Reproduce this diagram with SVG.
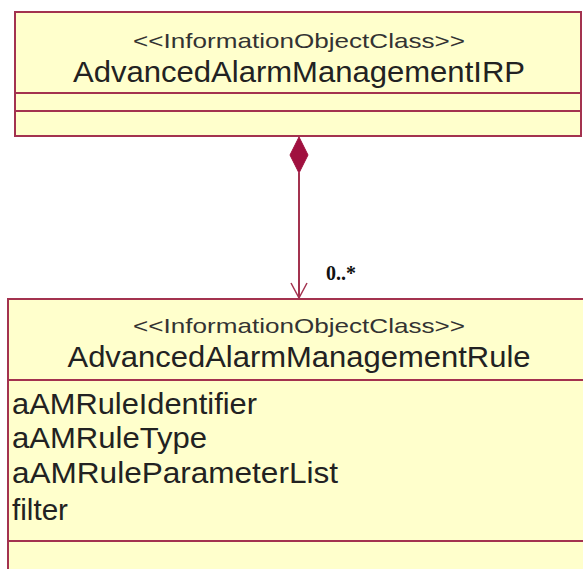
<svg xmlns="http://www.w3.org/2000/svg" width="583" height="569" viewBox="0 0 583 569">
<style>
.box{fill:#ffffcc;stroke:#a3324f;stroke-width:2}
.div{stroke:#a3324f;stroke-width:2}
.st{font-family:"Liberation Sans",Arial,sans-serif;font-size:21px;fill:#333;text-anchor:middle}
.nm{font-family:"Liberation Sans",Arial,sans-serif;font-size:29px;fill:#222;text-anchor:middle}
.at{font-family:"Liberation Sans",Arial,sans-serif;font-size:29px;fill:#222}
.mult{font-family:"Liberation Serif","Times New Roman",serif;font-size:20px;font-weight:bold;fill:#111}
</style>
<rect width="583" height="569" fill="#ffffff"/>
<g id="irp">
<rect class="box" x="15" y="12" width="566" height="124"/>
<line class="div" x1="15" y1="93" x2="581" y2="93"/>
<line class="div" x1="15" y1="111" x2="581" y2="111"/>
<text class="st" x="299" y="48" textLength="332" lengthAdjust="spacingAndGlyphs">&lt;&lt;InformationObjectClass&gt;&gt;</text>
<text class="nm" x="299" y="82" textLength="452" lengthAdjust="spacingAndGlyphs">AdvancedAlarmManagementIRP</text>
</g>
<g id="rule">
<rect class="box" x="8" y="299" width="585" height="290"/>
<line class="div" x1="8" y1="380" x2="583" y2="380"/>
<line class="div" x1="8" y1="541" x2="583" y2="541"/>
<text class="st" x="299" y="333" textLength="332" lengthAdjust="spacingAndGlyphs">&lt;&lt;InformationObjectClass&gt;&gt;</text>
<text class="nm" x="299" y="367" textLength="463" lengthAdjust="spacingAndGlyphs">AdvancedAlarmManagementRule</text>
<text class="at" x="12" y="414" textLength="245" lengthAdjust="spacingAndGlyphs">aAMRuleIdentifier</text>
<text class="at" x="12" y="448" textLength="195" lengthAdjust="spacingAndGlyphs">aAMRuleType</text>
<text class="at" x="12" y="483" textLength="326" lengthAdjust="spacingAndGlyphs">aAMRuleParameterList</text>
<text class="at" x="12" y="520" textLength="56" lengthAdjust="spacingAndGlyphs">filter</text>
</g>
<g id="connectors">
<polygon points="299,137 308,155 299,173 290,155" fill="#a0103f" stroke="#a0103f" stroke-width="1"/>
<line x1="299" y1="173" x2="299" y2="298" stroke="#a3324f" stroke-width="2"/>
<polyline points="291,283 299,298 307,283" fill="none" stroke="#a3324f" stroke-width="1.5"/>
<text class="mult" x="326" y="280">0..*</text>
</g>
</svg>
